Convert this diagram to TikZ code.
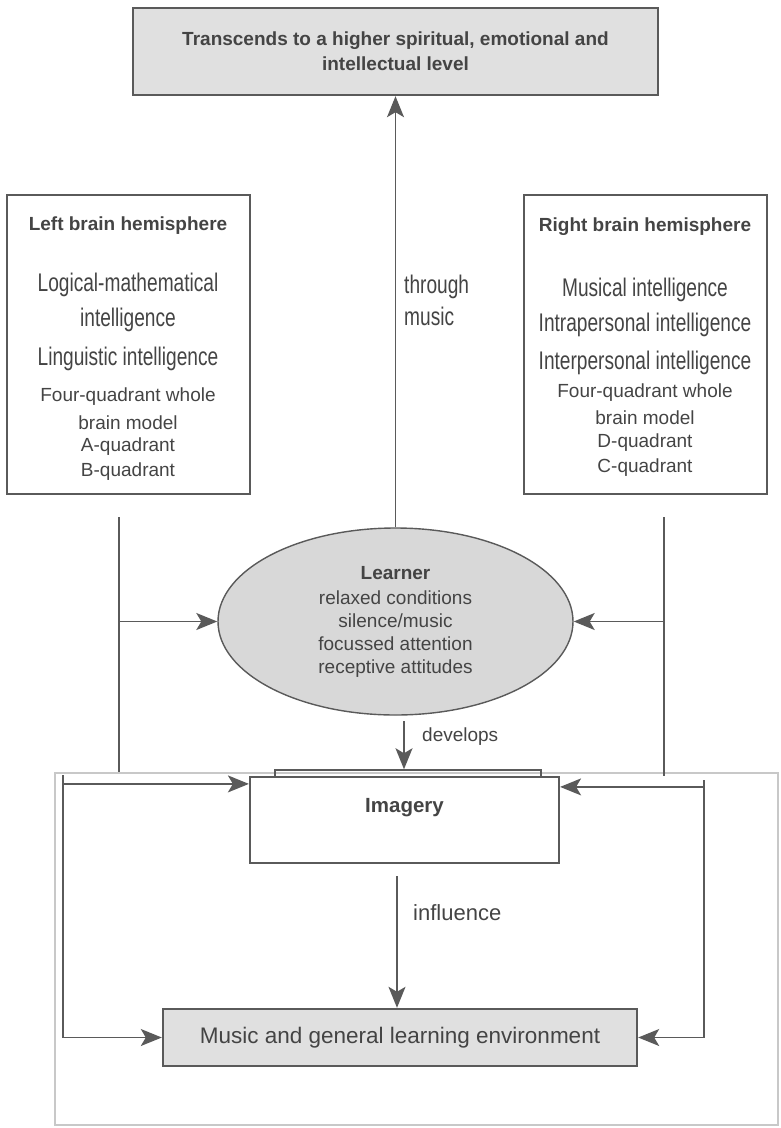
\documentclass[tikz,border=0pt]{standalone}
\usepackage{fontspec}
\setmainfont{Liberation Sans}
\newfontfamily\narrowfont{Liberation Sans}[FakeStretch=0.75]
\usetikzlibrary{shapes.geometric, arrows.meta, calc, positioning}
\definecolor{inkgray}{RGB}{68,68,68}
\definecolor{linegray}{RGB}{90,90,90}
\definecolor{boxfill}{RGB}{224,224,224}
\definecolor{ellfill}{RGB}{216,216,216}
\definecolor{framegray}{RGB}{200,200,200}
\newcommand{\hemititle}{\bfseries\fontsize{19}{23}\selectfont}
\newcommand{\intline}{\narrowfont\fontsize{25.5}{28}\selectfont}
\newcommand{\quadline}{\fontsize{19}{23}\selectfont}

\begin{document}
\begin{tikzpicture}[x=1pt,y=-1pt]

% TikZ styles
\tikzset{
  hemibox/.style={rectangle, draw=linegray, line width=2.2pt, minimum width=243pt, minimum height=299pt},
  shadebox/.style={rectangle, draw=linegray, fill=boxfill, line width=2.4pt, align=center, text=inkgray},
  plainbox/.style={rectangle, draw=linegray, fill=white, line width=2.2pt, text=inkgray},
  learnerell/.style={ellipse, draw=linegray, fill=ellfill, line width=1.4pt, minimum width=355pt, minimum height=187pt, inner sep=0pt, align=center, text=inkgray, font=\fontsize{19}{23}\selectfont},
  txt/.style={text=inkgray, inner sep=0pt},
  conn/.style={draw=linegray, line width=1.5pt},
  arrow/.style={conn, -{Stealth[length=21pt, width=17pt, inset=5pt]}}
}
\useasboundingbox (0,0) rectangle (781,1128);

% outer frame
\node[draw=framegray, line width=1.3pt, minimum width=723pt, minimum height=352pt] (envframe) at (416.5,949) {};

% top box
\node[shadebox, minimum width=525pt, minimum height=87pt, font=\bfseries\fontsize{19}{25}\selectfont] (transcend) at (395.5,51.5) {Transcends to a higher spiritual, emotional and\\intellectual level};

% left hemisphere
\node[hemibox] (lefthemi) at (128.5,344.5) {};
\node[txt, font=\hemititle] (lefttitle) at (128,226) {Left brain hemisphere};
\node[txt, font=\intline] (logical) at (128,285) {Logical-mathematical};
\node[txt, font=\intline] (logicalint) at (128,320) {intelligence};
\node[txt, font=\intline] (linguistic) at (128,359) {Linguistic intelligence};
\node[txt, font=\quadline] (leftfour) at (128,397) {Four-quadrant whole};
\node[txt, font=\quadline] (leftbrain) at (128,423) {brain model};
\node[txt, font=\quadline] (aquad) at (128,447) {A-quadrant};
\node[txt, font=\quadline] (bquad) at (128,472) {B-quadrant};

% right hemisphere
\node[hemibox] (righthemi) at (645.5,344.5) {};
\node[txt, font=\hemititle] (righttitle) at (645,227) {Right brain hemisphere};
\node[txt, font=\intline] (musical) at (645,290) {Musical intelligence};
\node[txt, font=\intline] (intra) at (645,325) {Intrapersonal intelligence};
\node[txt, font=\intline] (inter) at (645,363) {Interpersonal intelligence};
\node[txt, font=\quadline] (rightfour) at (645,393) {Four-quadrant whole};
\node[txt, font=\quadline] (rightbrain) at (645,418) {brain model};
\node[txt, font=\quadline] (dquad) at (645,443) {D-quadrant};
\node[txt, font=\quadline] (cquad) at (645,468) {C-quadrant};

% learner
\node[learnerell] (learner) at (395.5,621.5) {\textbf{Learner}\\[2pt]relaxed conditions\\silence/music\\focussed attention\\receptive attitudes};
\node[txt, font=\narrowfont\fontsize{25.5}{32}\selectfont, align=left, anchor=north west] (through) at (404,275) {through\\music};
\draw[arrow] (learner.north) -- (transcend.south);

% hemisphere drops
\node[coordinate] (leftdrop) at (119,517) {};
\node[coordinate] (leftend) at (119,772) {};
\node[coordinate] (rightdrop) at (664,517) {};
\node[coordinate] (rightend) at (664,776) {};
\draw[conn] (leftdrop) -- (leftend);
\draw[conn] (rightdrop) -- (rightend);
\draw[arrow] (leftdrop |- learner.west) -- (learner.west);
\draw[arrow] (rightdrop |- learner.east) -- (learner.east);

% imagery
\node[rectangle, draw=linegray, line width=1.5pt, minimum width=266pt, minimum height=9pt] (imgback) at (408,774.5) {};
\node[plainbox, minimum width=309pt, minimum height=86pt, text depth=30pt, font=\bfseries\fontsize{20.5}{24}\selectfont] (imagery) at (404.5,820) {Imagery};
\node[coordinate] (devstart) at (404,721) {};
\draw[arrow] (devstart) -- (devstart |- imgback.north);
\node[txt, font=\fontsize{19}{23}\selectfont, anchor=west] (develops) at (422,737) {develops};

% environment
\node[shadebox, minimum width=474pt, minimum height=57pt, font=\fontsize{22.5}{26}\selectfont] (music) at (400,1037.5) {Music and general learning environment};
\node[coordinate] (inflstart) at (397,876) {};
\draw[arrow] (inflstart) -- (inflstart |- music.north);
\node[txt, font=\fontsize{22}{26}\selectfont, anchor=west] (influence) at (413,913) {influence};

% side loops
\node[coordinate] (loopL) at (63,775) {};
\node[coordinate] (loopR) at (704,780) {};
\node[coordinate] (imgLin) at ($(imagery.north west)+(0,8)$) {};
\node[coordinate] (imgRin) at ($(imagery.north east)+(0,11)$) {};
\draw[arrow] (loopL) |- (music.west);
\draw[arrow] (loopR) |- (music.east);
\draw[arrow] (loopL |- imgLin) -- (imgLin);
\draw[arrow] (loopR |- imgRin) -- (imgRin);
\end{tikzpicture}
\end{document}
